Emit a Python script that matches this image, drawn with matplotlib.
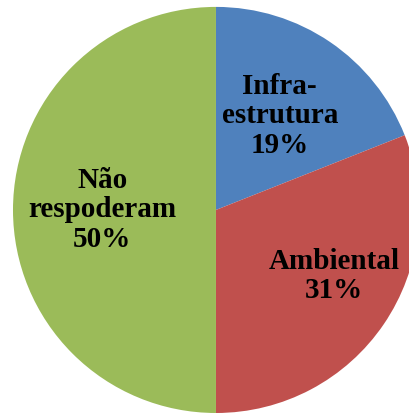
from matplotlib import pyplot as plt
import numpy as np

labels = ['Infra-\nestrutura\n19%', 'Ambiental\n31%', 'Não\nrespoderam\n50%']
values = [19, 31, 50]
colors = ['#4F81BD', '#C0504D', '#9BBB59']
label_r = [0.56, 0.665, 0.56]
label_shift = [0, 5, 0]  # degrees, nudges label round the centre

fig = plt.figure(figsize=(4.09, 4.13), dpi=100)
ax = fig.add_axes([0, 0, 1, 1])

wedges, _ = ax.pie(values, colors=colors, startangle=90, counterclock=False,
                   radius=1, wedgeprops=dict(linewidth=0))

for w, lab, r, d in zip(wedges, labels, label_r, label_shift):
    ang = np.deg2rad((w.theta1 + w.theta2) / 2 + d)
    ax.text(r * np.cos(ang), r * np.sin(ang), lab, ha='center', va='center',
            fontsize=21, fontweight='bold', family='Liberation Serif',
            linespacing=1.1, color='black')

# pie is cropped at the right and bottom
ax.set_xlim(-1.064, 0.951)
ax.set_ylim(-1.0, 1.034)
ax.set_aspect('auto')
ax.axis('off')

fig.savefig('out.png', dpi=100)
